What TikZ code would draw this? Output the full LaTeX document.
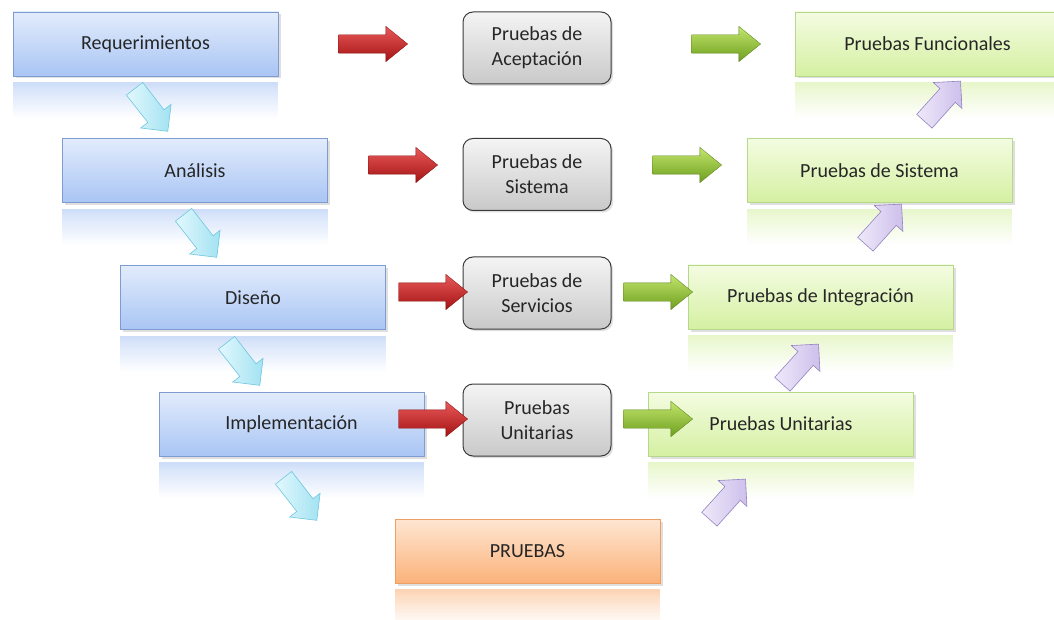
\documentclass[tikz,border=0pt]{standalone}
\usepackage{fontspec}
\setmainfont{Carlito}
\usetikzlibrary{shapes.arrows,shadows,fadings,calc}

\definecolor{txt}{HTML}{262626}
\definecolor{blueT}{HTML}{E2ECFC}
\definecolor{blueB}{HTML}{A9C5F4}
\definecolor{blueD}{HTML}{7E9CD2}
\definecolor{greenT}{HTML}{F4FCE2}
\definecolor{greenB}{HTML}{D5F0A2}
\definecolor{greenD}{HTML}{B6D88A}
\definecolor{orangeT}{HTML}{FEE6D2}
\definecolor{orangeB}{HTML}{FBB27A}
\definecolor{orangeD}{HTML}{EE9F62}
\definecolor{grayT}{HTML}{F4F4F4}
\definecolor{grayB}{HTML}{C9C9C9}
\definecolor{grayD}{HTML}{3C3C3C}
\definecolor{redT}{HTML}{E85A5A}
\definecolor{redB}{HTML}{A51212}
\definecolor{grnT}{HTML}{C2E66C}
\definecolor{grnB}{HTML}{6E9E1E}
\definecolor{cyanT}{HTML}{E2F8FD}
\definecolor{cyanB}{HTML}{A2E2F2}
\definecolor{cyanD}{HTML}{6FC6DE}
\definecolor{lilaT}{HTML}{EFE9FA}
\definecolor{lilaB}{HTML}{CDBFEB}
\definecolor{lilaD}{HTML}{9483C0}

\tikzset{
  box/.style={rectangle, minimum width=265pt, minimum height=64pt,
    inner sep=0pt, text=txt, font=\fontsize{20}{24}\selectfont,
    line width=0.8pt,
    drop shadow={opacity=0.25, shadow xshift=2.5pt, shadow yshift=-2.5pt}},
  phase/.style={box, draw=blueD, top color=blueT, bottom color=blueB},
  test/.style={box, draw=greenD, top color=greenT, bottom color=greenB},
  core/.style={box, draw=orangeD, top color=orangeT, bottom color=orangeB},
  level/.style={rectangle, rounded corners=10pt, minimum width=148pt,
    minimum height=72pt, align=center, text=txt,
    font=\fontsize{20}{25}\selectfont, line width=1pt, draw=grayD,
    top color=grayT, bottom color=grayB,
    drop shadow={opacity=0.25, shadow xshift=2pt, shadow yshift=-2pt}},
  blockarrow/.style={single arrow, inner sep=9pt, minimum height=69pt,
    single arrow head extend=8.5pt, single arrow tip angle=78,
    shading angle=0},
  redarrow/.style={blockarrow, top color=redT, bottom color=redB,
    draw=redB!80!black, line width=0.3pt},
  greenarrow/.style={blockarrow, top color=grnT, bottom color=grnB,
    draw=grnB!80!black, line width=0.3pt},
  diagarrow/.style={single arrow, inner sep=10pt, minimum height=54pt,
    single arrow head extend=9pt, single arrow tip angle=90,
    line width=0.6pt},
  downarrow/.style={diagarrow, rotate=-52, draw=cyanD,
    left color=cyanT, right color=cyanB},
  uparrow/.style={diagarrow, rotate=48, draw=lilaD,
    left color=lilaT, right color=lilaB},
  mirror/.style={path fading=south, fill opacity=0.55}
}

% faded mirror image under a box
\newcommand{\mirrorbox}[2]{%
  \fill[#2, mirror] ($(#1.south west)+(0,6)$) rectangle ($(#1.south east)+(0,42)$);
  \fill[#2!60!white, mirror, fill opacity=0.35] ($(#1.south west)+(0,6)$) rectangle ($(#1.south east)+(0,12)$);
}

\begin{document}
\begin{tikzpicture}[x=1pt,y=-1pt]
\useasboundingbox (0,0) rectangle (1054,620);

% development phases (left staircase)
\node[phase] (req) at (145.5,44)  {Requerimientos};
\node[phase] (ana) at (195,170.5) {Análisis};
\node[phase] (dis) at (253,297.5) {Diseño};
\node[phase] (imp) at (291.5,424) {Implementación};
\node[core]  (pru) at (527.5,551) {PRUEBAS};

% test levels (middle column)
\node[level] (lac) at (537,48)    {Pruebas de\\Aceptación};
\node[level] (lsi) at (537,174.5) {Pruebas de\\Sistema};
\node[level] (lse) at (537,293)   {Pruebas de\\Servicios};
\node[level] (lun) at (537,420)   {Pruebas\\Unitarias};

% test types (right staircase)
\node[test] (tfu) at (927.5,44)   {Pruebas Funcionales};
\node[test] (tsi) at (879.5,170.5){Pruebas de Sistema};
\node[test] (tin) at (820.5,297)  {Pruebas de Integración};
\node[test] (tun) at (781,424)    {Pruebas Unitarias};

% mirror images
\begin{scope}
\mirrorbox{req}{blueB}
\mirrorbox{ana}{blueB}
\mirrorbox{dis}{blueB}
\mirrorbox{imp}{blueB}
\mirrorbox{pru}{orangeB}
\mirrorbox{tfu}{greenB}
\mirrorbox{tsi}{greenB}
\mirrorbox{tin}{greenB}
\mirrorbox{tun}{greenB}
\end{scope}

% red arrows: phase -> test level
\node[redarrow] (r1) at (367.5,44)  {};
\node[redarrow] (r2) at (397.5,165) {};
\node[redarrow] (r3) at (427.5,292) {};
\node[redarrow] (r4) at (427.5,419) {};

% green arrows: test level -> test type
\node[greenarrow] (g1) at (720.5,44)  {};
\node[greenarrow] (g2) at (681.5,165) {};
\node[greenarrow] (g3) at (652.5,292) {};
\node[greenarrow] (g4) at (652.5,419) {};

% descending arrows between phases
\node[downarrow] (d1) at (148,106) {};
\node[downarrow] (d2) at (197,232) {};
\node[downarrow] (d3) at (240,360) {};
\node[downarrow] (d4) at (297,495) {};

% ascending arrows between test types
\node[uparrow] (u1) at (939,105) {};
\node[uparrow] (u2) at (880,228) {};
\node[uparrow] (u3) at (797,368) {};
\node[uparrow] (u4) at (724,503) {};
\end{tikzpicture}
\end{document}
